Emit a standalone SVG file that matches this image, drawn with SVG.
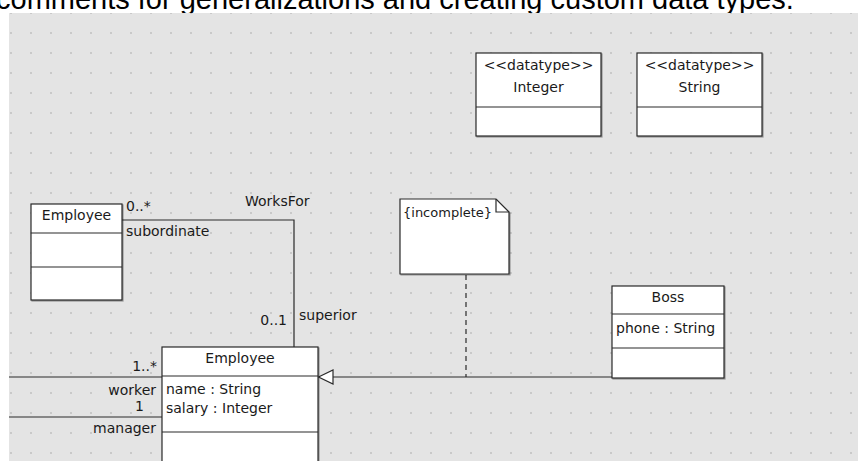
<svg xmlns="http://www.w3.org/2000/svg" width="858" height="461" viewBox="0 0 858 461">
<defs>
<pattern id="dots" patternUnits="userSpaceOnUse" x="0" y="0" width="20" height="20">
<rect x="10" y="12" width="2" height="2" fill="#c9c9c9"/>
</pattern>
<filter id="sh" x="-10%" y="-10%" width="130%" height="130%">
<feDropShadow dx="1" dy="1" stdDeviation="0.6" flood-color="#000" flood-opacity="0.35"/>
</filter>
</defs>
<style>
text{font-family:"DejaVu Sans",Verdana,sans-serif;font-size:14px;fill:#1a1a1a}
.box{fill:#fff;stroke:#2a2a2a;stroke-width:1.2;filter:url(#sh)}
.div{stroke:#2a2a2a;stroke-width:1.2;fill:none}
.c{text-anchor:middle}
.e{text-anchor:end}
.ln{stroke:#2a2a2a;stroke-width:1.2;fill:none}
.dash{stroke:#2a2a2a;stroke-width:1.2;fill:none;stroke-dasharray:5 4}
.top{font-family:"Liberation Sans",Arial,sans-serif;font-size:29px;fill:#000}
</style>
<rect width="858" height="461" fill="#fff"/>
<text class="top" x="-4" y="9">comments for generalizations and creating custom data types.</text>
<rect x="9" y="13" width="849" height="448" fill="#e4e4e4"/>
<rect x="9" y="13" width="849" height="448" fill="url(#dots)"/>

<g id="connectors">
<polyline class="ln" points="122,220 294,220 294,347"/>
<line class="ln" x1="9" y1="377" x2="162" y2="377"/>
<line class="ln" x1="9" y1="417" x2="162" y2="417"/>
<line class="ln" x1="333" y1="377" x2="612" y2="377"/>
<polygon points="318.5,377 333,370 333,384" fill="#fff" stroke="#2a2a2a" stroke-width="1.2"/>
<line class="dash" x1="466" y1="275" x2="466" y2="377"/>
<text x="126" y="211">0..*</text>
<text x="126" y="236">subordinate</text>
<text x="245" y="206">WorksFor</text>
<text class="e" x="287" y="325">0..1</text>
<text x="299" y="320">superior</text>
<text class="e" x="157" y="371">1..*</text>
<text class="e" x="156" y="395">worker</text>
<text class="e" x="144" y="411">1</text>
<text class="e" x="156" y="433">manager</text>
</g>

<g id="integer">
<rect class="box" x="476" y="53" width="125" height="83"/>
<line class="div" x1="476" y1="107" x2="601" y2="107"/>
<text class="c" x="538.5" y="70">&lt;&lt;datatype&gt;&gt;</text>
<text class="c" x="538.5" y="92">Integer</text>
</g>

<g id="string">
<rect class="box" x="637" y="53" width="125" height="83"/>
<line class="div" x1="637" y1="107" x2="762" y2="107"/>
<text class="c" x="699.5" y="70">&lt;&lt;datatype&gt;&gt;</text>
<text class="c" x="699.5" y="92">String</text>
</g>

<g id="employee-small">
<rect class="box" x="31" y="204" width="91" height="96"/>
<line class="div" x1="31" y1="233" x2="122" y2="233"/>
<line class="div" x1="31" y1="267" x2="122" y2="267"/>
<text class="c" x="76.5" y="220">Employee</text>
</g>

<g id="note">
<path class="box" d="M400,199 H496 L509,212 V274 H400 Z"/>
<path class="div" d="M496,199 V212 H509"/>
<text x="403" y="217" style="font-size:13px">{incomplete}</text>
</g>

<g id="boss">
<rect class="box" x="612" y="286" width="112" height="92"/>
<line class="div" x1="612" y1="314" x2="724" y2="314"/>
<line class="div" x1="612" y1="348" x2="724" y2="348"/>
<text class="c" x="668" y="302">Boss</text>
<text x="616" y="333">phone : String</text>
</g>

<g id="employee">
<rect class="box" x="162" y="347" width="156" height="130"/>
<line class="div" x1="162" y1="376" x2="318" y2="376"/>
<line class="div" x1="162" y1="432" x2="318" y2="432"/>
<text class="c" x="240" y="363">Employee</text>
<text x="166" y="394">name : String</text>
<text x="166" y="413">salary : Integer</text>
</g>
</svg>
